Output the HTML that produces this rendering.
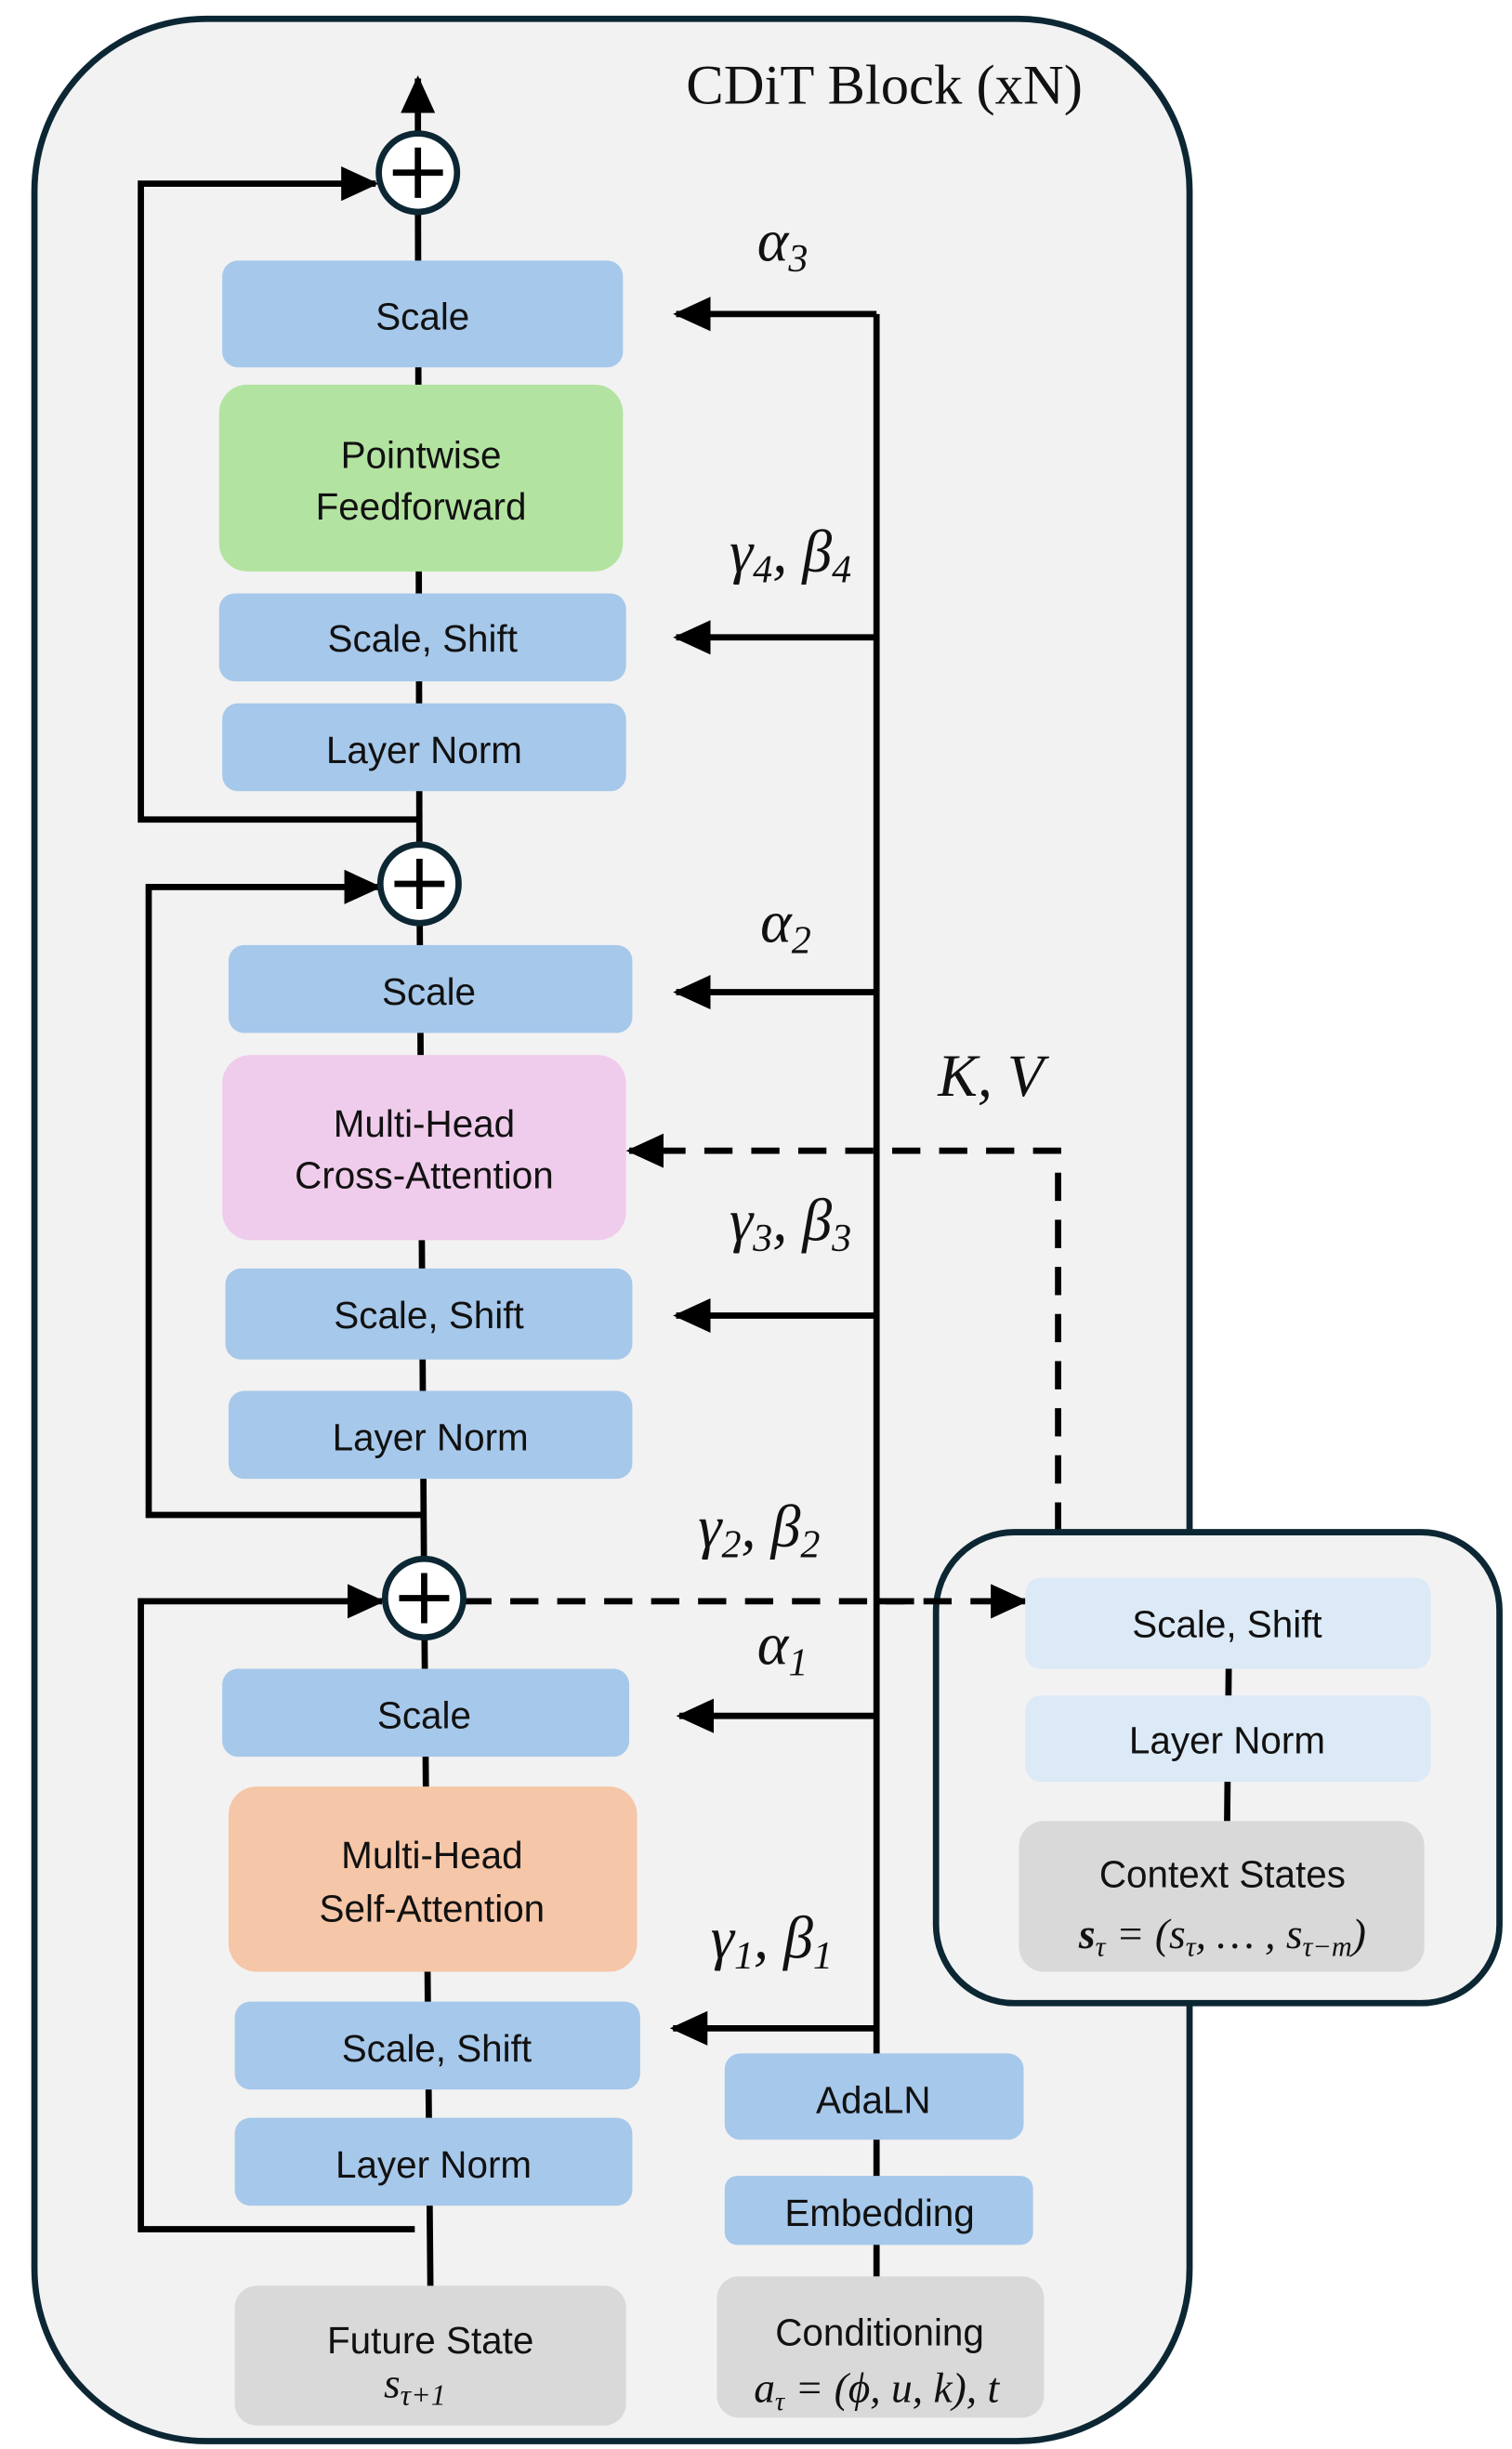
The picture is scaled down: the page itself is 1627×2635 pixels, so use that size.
<!DOCTYPE html>
<html><head><meta charset="utf-8"><style>
html,body{margin:0;padding:0;background:#fff;}
svg{display:block;}
.b{font-family:"Liberation Sans",sans-serif;font-size:24px;fill:#111;text-anchor:middle;}
.m{font-family:"Liberation Serif",serif;font-style:italic;font-size:38px;fill:#111;text-anchor:middle;}
.ms{font-family:"Liberation Serif",serif;font-style:italic;font-size:27px;fill:#111;text-anchor:middle;}
</style></head><body>
<svg width="1627" height="2635" viewBox="0 0 966 1560" preserveAspectRatio="none" xmlns="http://www.w3.org/2000/svg">
<defs>
<marker id="a2" markerWidth="24" markerHeight="22" refX="22" refY="11" orient="auto" markerUnits="userSpaceOnUse"><path d="M0,0 L24,11 L0,22 z" fill="#000"/></marker>
</defs>
<rect x="22" y="12" width="738" height="1543" rx="110" fill="#f2f2f2" stroke="#0c2733" stroke-width="4"/>
<text x="565" y="66" font-family="Liberation Serif,serif" font-size="36" text-anchor="middle" fill="#111">CDiT Block (xN)</text>

<g stroke="#000" stroke-width="4" fill="none">
<line x1="267" y1="110" x2="267" y2="50" marker-end="url(#a2)"/>
<line x1="267" y1="110" x2="268" y2="563"/>
<line x1="268" y1="563" x2="271" y2="1018"/>
<line x1="271" y1="1018" x2="275" y2="1460"/>
<polyline points="268,522 90,522 90,117 240,117" marker-end="url(#a2)"/>
<polyline points="270,965 95,965 95,565 242,565" marker-end="url(#a2)"/>
<polyline points="265,1420 90,1420 90,1020 244,1020" marker-end="url(#a2)"/>
<line x1="560" y1="200" x2="560" y2="1310"/>
<line x1="560" y1="1360" x2="560" y2="1452"/>
<line x1="560" y1="200" x2="432" y2="200" marker-end="url(#a2)"/>
<line x1="560" y1="406" x2="432" y2="406" marker-end="url(#a2)"/>
<line x1="560" y1="632" x2="432" y2="632" marker-end="url(#a2)"/>
<line x1="560" y1="838" x2="432" y2="838" marker-end="url(#a2)"/>
<line x1="560" y1="1093" x2="434" y2="1093" marker-end="url(#a2)"/>
<line x1="560" y1="1292" x2="430" y2="1292" marker-end="url(#a2)"/>
<line x1="296" y1="1020" x2="655" y2="1020" stroke-dasharray="18,12" marker-end="url(#a2)"/>
<polyline points="676,975 676,733 402,733" stroke-dasharray="18,12" marker-end="url(#a2)"/>
</g>

<rect x="598" y="976" width="360" height="300" rx="50" fill="#f2f2f2" stroke="#0c2733" stroke-width="4"/>
<line x1="785" y1="1063" x2="784" y2="1160" stroke="#000" stroke-width="4"/>
<line x1="560" y1="1020" x2="655" y2="1020" stroke="#000" stroke-width="4" stroke-dasharray="18,12" marker-end="url(#a2)"/>

<g>
<rect x="142" y="166" width="256" height="68" rx="10" fill="#a6c8ea"/><text class="b" x="270" y="210">Scale</text>
<rect x="140" y="245" width="258" height="119" rx="18" fill="#b3e3a0"/><text class="b" x="269" y="298">Pointwise</text><text class="b" x="269" y="331">Feedforward</text>
<rect x="140" y="378" width="260" height="56" rx="10" fill="#a6c8ea"/><text class="b" x="270" y="415">Scale, Shift</text>
<rect x="142" y="448" width="258" height="56" rx="10" fill="#a6c8ea"/><text class="b" x="271" y="486">Layer Norm</text>
<rect x="146" y="602" width="258" height="56" rx="10" fill="#a6c8ea"/><text class="b" x="274" y="640">Scale</text>
<rect x="142" y="672" width="258" height="118" rx="18" fill="#f0ccec"/><text class="b" x="271" y="724">Multi-Head</text><text class="b" x="271" y="757">Cross-Attention</text>
<rect x="144" y="808" width="260" height="58" rx="10" fill="#a6c8ea"/><text class="b" x="274" y="846">Scale, Shift</text>
<rect x="146" y="886" width="258" height="56" rx="10" fill="#a6c8ea"/><text class="b" x="275" y="924">Layer Norm</text>
<rect x="142" y="1063" width="260" height="56" rx="10" fill="#a6c8ea"/><text class="b" x="271" y="1101">Scale</text>
<rect x="146" y="1138" width="261" height="118" rx="18" fill="#f6c6a8"/><text class="b" x="276" y="1190">Multi-Head</text><text class="b" x="276" y="1224">Self-Attention</text>
<rect x="150" y="1275" width="259" height="56" rx="10" fill="#a6c8ea"/><text class="b" x="279" y="1313">Scale, Shift</text>
<rect x="150" y="1349" width="254" height="56" rx="10" fill="#a6c8ea"/><text class="b" x="277" y="1387">Layer Norm</text>
<rect x="150" y="1456" width="250" height="89" rx="14" fill="#d9d9d9"/><text class="b" x="275" y="1499">Future State</text><text class="ms" x="265" y="1527" font-size="28">s<tspan font-size="19" dy="5">τ+1</tspan></text>
<rect x="463" y="1308" width="191" height="55" rx="10" fill="#a6c8ea"/><text class="b" x="558" y="1346">AdaLN</text>
<rect x="463" y="1386" width="197" height="44" rx="8" fill="#a6c8ea"/><text class="b" x="562" y="1418">Embedding</text>
<rect x="458" y="1450" width="209" height="90" rx="14" fill="#d9d9d9"/><text class="b" x="562" y="1494">Conditioning</text><text class="ms" x="560" y="1530">a<tspan font-size="17" dy="5">τ</tspan><tspan dy="-5"> = (ϕ, u, k), t</tspan></text>
<rect x="655" y="1005" width="259" height="58" rx="10" fill="#dce9f6"/><text class="b" x="784" y="1043">Scale, Shift</text>
<rect x="655" y="1080" width="259" height="55" rx="10" fill="#dce9f6"/><text class="b" x="784" y="1117">Layer Norm</text>
<rect x="651" y="1160" width="259" height="96" rx="16" fill="#d9d9d9"/><text class="b" x="781" y="1202">Context States</text><text class="ms" x="781" y="1241" font-size="28"><tspan font-weight="bold">s</tspan><tspan font-size="18" dy="5">τ</tspan><tspan dy="-5"> = (s</tspan><tspan font-size="18" dy="5">τ</tspan><tspan dy="-5">, … , s</tspan><tspan font-size="18" dy="5">τ−m</tspan><tspan dy="-5">)</tspan></text>
</g>

<g stroke="#0c2733" stroke-width="4" fill="#fff">
<circle cx="267" cy="110" r="25"/><circle cx="268" cy="563" r="25"/><circle cx="271" cy="1018" r="25"/>
</g>
<g stroke="#000" stroke-width="4">
<line x1="251" y1="110" x2="283" y2="110"/><line x1="267" y1="94" x2="267" y2="126"/>
<line x1="252" y1="563" x2="284" y2="563"/><line x1="268" y1="547" x2="268" y2="579"/>
<line x1="255" y1="1018" x2="287" y2="1018"/><line x1="271" y1="1002" x2="271" y2="1034"/>
</g>

<text class="m" x="500" y="166">α<tspan font-size="25" dy="7">3</tspan></text>
<text class="m" x="505" y="364">γ<tspan font-size="25" dy="7">4</tspan><tspan dy="-7">, β</tspan><tspan font-size="25" dy="7">4</tspan></text>
<text class="m" x="502" y="600">α<tspan font-size="25" dy="7">2</tspan></text>
<text class="m" x="633" y="698">K, V</text>
<text class="m" x="505" y="790">γ<tspan font-size="25" dy="7">3</tspan><tspan dy="-7">, β</tspan><tspan font-size="25" dy="7">3</tspan></text>
<text class="m" x="485" y="985">γ<tspan font-size="25" dy="7">2</tspan><tspan dy="-7">, β</tspan><tspan font-size="25" dy="7">2</tspan></text>
<text class="m" x="500" y="1060">α<tspan font-size="25" dy="7">1</tspan></text>
<text class="m" x="493" y="1247">γ<tspan font-size="25" dy="7">1</tspan><tspan dy="-7">, β</tspan><tspan font-size="25" dy="7">1</tspan></text>
</svg>
</body></html>
